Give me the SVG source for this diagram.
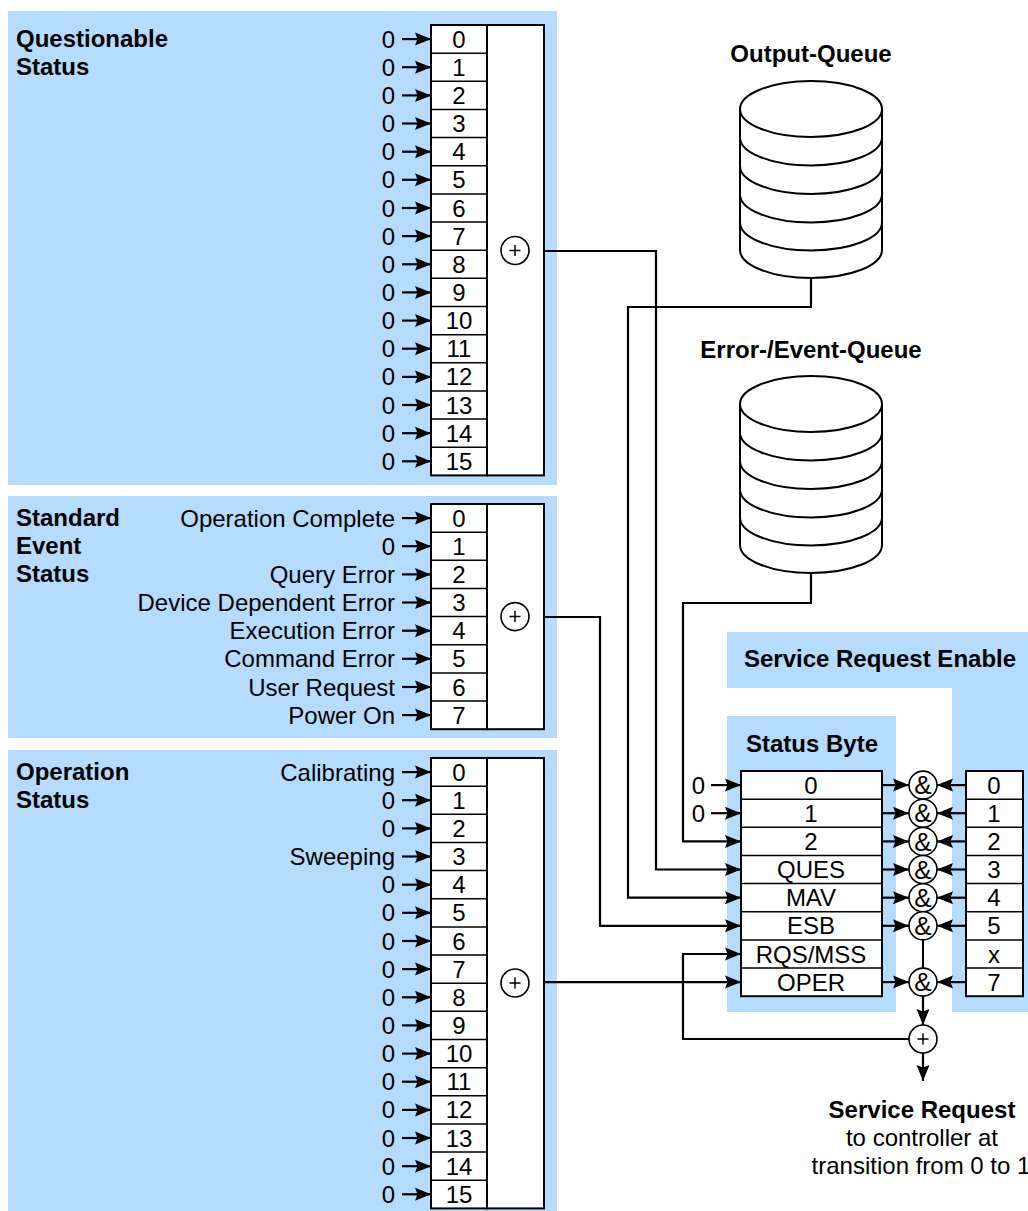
<svg xmlns="http://www.w3.org/2000/svg" width="1028" height="1211" viewBox="0 0 1028 1211">
<defs>
<style>
.panel{fill:#b5dcfe;stroke:none}
.box{fill:#fff;stroke:#000;stroke-width:2}
.div{stroke:#000;stroke-width:1.5;fill:none}
.t{font-family:"Liberation Sans",Arial,sans-serif;font-size:24px;fill:#000}
.b{font-weight:bold}
.m{text-anchor:middle}
.e{text-anchor:end}
.amp{font-size:26px}
.ln{stroke:#000;stroke-width:2;fill:none}
.ar path,path.ar{stroke:#000;stroke-width:2.2;fill:none;marker-end:url(#ah)}
.circ{fill:#fff;stroke:#000;stroke-width:1.6}
.cyl{fill:#fff;stroke:#000;stroke-width:2}
</style>
<marker id="ah" markerWidth="17" markerHeight="14" refX="16" refY="7" orient="auto" markerUnits="userSpaceOnUse"><path d="M0,0.5 L16,7 L0,13.5 L2.5,7 Z" fill="#000"/></marker>
</defs>
<rect width="1028" height="1211" fill="#fff"/>

<g id="questionable">
<rect class="panel" x="8" y="11" width="549" height="474"/>
<text class="t b" x="16" y="47">Questionable</text>
<text class="t b" x="16" y="75">Status</text>
<rect class="box" x="431" y="25" width="56" height="450.4"/>
<rect class="box" x="487" y="25" width="57" height="450.4"/>
<path class="div" d="M431,53.15H487M431,81.3H487M431,109.45H487M431,137.6H487M431,165.75H487M431,193.9H487M431,222.05H487M431,250.2H487M431,278.35H487M431,306.5H487M431,334.65H487M431,362.8H487M431,390.95H487M431,419.1H487M431,447.25H487"/>
<circle class="circ" cx="515" cy="250.5" r="14"/>
<path class="div" d="M509.5,250.5H520.5M515,245V256" stroke-width="1.3"/>
<g class="t m">
<text x="459" y="47.6">0</text><text x="459" y="75.7">1</text><text x="459" y="103.9">2</text><text x="459" y="132">3</text>
<text x="459" y="160.2">4</text><text x="459" y="188.3">5</text><text x="459" y="216.5">6</text><text x="459" y="244.6">7</text>
<text x="459" y="272.8">8</text><text x="459" y="300.9">9</text><text x="459" y="329.1">10</text><text x="459" y="357.2">11</text>
<text x="459" y="385.4">12</text><text x="459" y="413.5">13</text><text x="459" y="441.7">14</text><text x="459" y="469.8">15</text>
</g>
<g class="t e">
<text x="395" y="47.6">0</text><text x="395" y="75.7">0</text><text x="395" y="103.9">0</text><text x="395" y="132">0</text>
<text x="395" y="160.2">0</text><text x="395" y="188.3">0</text><text x="395" y="216.5">0</text><text x="395" y="244.6">0</text>
<text x="395" y="272.8">0</text><text x="395" y="300.9">0</text><text x="395" y="329.1">0</text><text x="395" y="357.2">0</text>
<text x="395" y="385.4">0</text><text x="395" y="413.5">0</text><text x="395" y="441.7">0</text><text x="395" y="469.8">0</text>
</g>
<g class="ar">
<path d="M402,39.1H431"/><path d="M402,67.2H431"/><path d="M402,95.4H431"/><path d="M402,123.5H431"/>
<path d="M402,151.7H431"/><path d="M402,179.8H431"/><path d="M402,208H431"/><path d="M402,236.1H431"/>
<path d="M402,264.3H431"/><path d="M402,292.4H431"/><path d="M402,320.6H431"/><path d="M402,348.7H431"/>
<path d="M402,376.9H431"/><path d="M402,405H431"/><path d="M402,433.2H431"/><path d="M402,461.3H431"/>
</g>
</g>

<g id="standard-event">
<rect class="panel" x="8" y="496" width="549" height="242"/>
<text class="t b" x="16" y="526">Standard</text>
<text class="t b" x="16" y="554">Event</text>
<text class="t b" x="16" y="582">Status</text>
<rect class="box" x="431" y="504" width="56" height="225.2"/>
<rect class="box" x="487" y="504" width="57" height="225.2"/>
<path class="div" d="M431,532.15H487M431,560.3H487M431,588.45H487M431,616.6H487M431,644.75H487M431,672.9H487M431,701.05H487"/>
<circle class="circ" cx="515" cy="616.6" r="14"/>
<path class="div" d="M509.5,616.6H520.5M515,611.1V622.1" stroke-width="1.3"/>
<g class="t m">
<text x="459" y="526.6">0</text><text x="459" y="554.7">1</text><text x="459" y="582.9">2</text><text x="459" y="611">3</text>
<text x="459" y="639.2">4</text><text x="459" y="667.3">5</text><text x="459" y="695.5">6</text><text x="459" y="723.6">7</text>
</g>
<g class="t e">
<text x="395" y="526.6">Operation Complete</text><text x="395" y="554.7">0</text><text x="395" y="582.9">Query Error</text><text x="395" y="611">Device Dependent Error</text>
<text x="395" y="639.2">Execution Error</text><text x="395" y="667.3">Command Error</text><text x="395" y="695.5">User Request</text><text x="395" y="723.6">Power On</text>
</g>
<g class="ar">
<path d="M402,518.1H431"/><path d="M402,546.2H431"/><path d="M402,574.4H431"/><path d="M402,602.5H431"/>
<path d="M402,630.7H431"/><path d="M402,658.8H431"/><path d="M402,687H431"/><path d="M402,715.1H431"/>
</g>
</g>

<g id="operation">
<rect class="panel" x="8" y="750" width="549" height="461"/>
<text class="t b" x="16" y="780">Operation</text>
<text class="t b" x="16" y="808">Status</text>
<rect class="box" x="431" y="758" width="56" height="450.4"/>
<rect class="box" x="487" y="758" width="57" height="450.4"/>
<path class="div" d="M431,786.15H487M431,814.3H487M431,842.45H487M431,870.6H487M431,898.75H487M431,926.9H487M431,955.05H487M431,983.2H487M431,1011.35H487M431,1039.5H487M431,1067.65H487M431,1095.8H487M431,1123.95H487M431,1152.1H487M431,1180.25H487"/>
<circle class="circ" cx="515" cy="983" r="14"/>
<path class="div" d="M509.5,983H520.5M515,977.5V988.5" stroke-width="1.3"/>
<g class="t m">
<text x="459" y="780.6">0</text><text x="459" y="808.7">1</text><text x="459" y="836.9">2</text><text x="459" y="865">3</text>
<text x="459" y="893.2">4</text><text x="459" y="921.3">5</text><text x="459" y="949.5">6</text><text x="459" y="977.6">7</text>
<text x="459" y="1005.8">8</text><text x="459" y="1033.9">9</text><text x="459" y="1062.1">10</text><text x="459" y="1090.2">11</text>
<text x="459" y="1118.4">12</text><text x="459" y="1146.5">13</text><text x="459" y="1174.7">14</text><text x="459" y="1202.8">15</text>
</g>
<g class="t e">
<text x="395" y="780.6">Calibrating</text><text x="395" y="808.7">0</text><text x="395" y="836.9">0</text><text x="395" y="865">Sweeping</text>
<text x="395" y="893.2">0</text><text x="395" y="921.3">0</text><text x="395" y="949.5">0</text><text x="395" y="977.6">0</text>
<text x="395" y="1005.8">0</text><text x="395" y="1033.9">0</text><text x="395" y="1062.1">0</text><text x="395" y="1090.2">0</text>
<text x="395" y="1118.4">0</text><text x="395" y="1146.5">0</text><text x="395" y="1174.7">0</text><text x="395" y="1202.8">0</text>
</g>
<g class="ar">
<path d="M402,772.1H431"/><path d="M402,800.2H431"/><path d="M402,828.4H431"/><path d="M402,856.5H431"/>
<path d="M402,884.7H431"/><path d="M402,912.8H431"/><path d="M402,941H431"/><path d="M402,969.1H431"/>
<path d="M402,997.3H431"/><path d="M402,1025.4H431"/><path d="M402,1053.6H431"/><path d="M402,1081.7H431"/>
<path d="M402,1109.9H431"/><path d="M402,1138H431"/><path d="M402,1166.2H431"/><path d="M402,1194.3H431"/>
</g>
</g>

<g id="output-queue">
<text class="t b m" x="811" y="62">Output-Queue</text>
<path class="cyl" d="M740,109V250A71,28 0 0 0 882,250V109Z"/>
<ellipse class="cyl" cx="811" cy="109" rx="71" ry="28"/>
<path class="ln" d="M740,137.5A71,28 0 0 0 882,137.5M740,166A71,28 0 0 0 882,166M740,194.5A71,28 0 0 0 882,194.5M740,222.5A71,28 0 0 0 882,222.5"/>
</g>

<g id="error-queue">
<text class="t b m" x="811" y="358">Error-/Event-Queue</text>
<path class="cyl" d="M740,404V545A71,28 0 0 0 882,545V404Z"/>
<ellipse class="cyl" cx="811" cy="404" rx="71" ry="28"/>
<path class="ln" d="M740,432.5A71,28 0 0 0 882,432.5M740,461A71,28 0 0 0 882,461M740,489.5A71,28 0 0 0 882,489.5M740,517.5A71,28 0 0 0 882,517.5"/>
</g>

<g id="service-request-enable">
<rect class="panel" x="727" y="632" width="301" height="56"/>
<rect class="panel" x="952" y="687" width="76" height="325"/>
<text class="t b m" x="880" y="667">Service Request Enable</text>
<rect class="box" x="966" y="771" width="57" height="225.2"/>
<path class="div" d="M966,799.15H1023M966,827.3H1023M966,855.45H1023M966,883.6H1023M966,911.75H1023M966,939.9H1023M966,968.05H1023"/>
<g class="t m">
<text x="994" y="793.6">0</text><text x="994" y="821.7">1</text><text x="994" y="849.9">2</text><text x="994" y="878">3</text>
<text x="994" y="906.2">4</text><text x="994" y="934.3">5</text><text x="994" y="962.5">x</text><text x="994" y="990.6">7</text>
</g>
</g>

<g id="status-byte">
<rect class="panel" x="727" y="716" width="169" height="296"/>
<text class="t b" x="746" y="752">Status Byte</text>
<rect class="box" x="741" y="771" width="141" height="225.2"/>
<path class="div" d="M741,799.15H882M741,827.3H882M741,855.45H882M741,883.6H882M741,911.75H882M741,939.9H882M741,968.05H882"/>
<g class="t m">
<text x="811" y="793.6">0</text><text x="811" y="821.7">1</text><text x="811" y="849.9">2</text><text x="811" y="878">QUES</text>
<text x="811" y="906.2">MAV</text><text x="811" y="934.3">ESB</text><text x="811" y="962.5">RQS/MSS</text><text x="811" y="990.6">OPER</text>
</g>
<text class="t e" x="705" y="793.6">0</text>
<text class="t e" x="705" y="821.7">0</text>
</g>

<g id="and-gates">
<path class="ln" d="M923,939.8V968.1"/>
<circle class="circ" cx="923" cy="785.1" r="14"/>
<circle class="circ" cx="923" cy="813.2" r="14"/>
<circle class="circ" cx="923" cy="841.4" r="14"/>
<circle class="circ" cx="923" cy="869.5" r="14"/>
<circle class="circ" cx="923" cy="897.7" r="14"/>
<circle class="circ" cx="923" cy="925.8" r="14"/>
<circle class="circ" cx="923" cy="982.1" r="14"/>
<g class="t m amp">
<text x="923" y="794.3">&amp;</text><text x="923" y="822.4">&amp;</text><text x="923" y="850.6">&amp;</text><text x="923" y="878.7">&amp;</text>
<text x="923" y="906.9">&amp;</text><text x="923" y="935">&amp;</text><text x="923" y="991.3">&amp;</text>
</g>
</g>

<g id="sum-srq">
<circle class="circ" cx="923" cy="1039" r="14"/>
<path class="div" d="M917.5,1039H928.5M923,1033.5V1044.5" stroke-width="1.3"/>
</g>

<g id="service-request-label">
<text class="t b m" x="922" y="1118">Service Request</text>
<text class="t m" x="922" y="1146">to controller at</text>
<text class="t m" x="921" y="1174">transition from 0 to 1</text>
</g>

<g id="connectors" class="ar">
<path d="M544,251H656V869.5H741"/>
<path d="M811,278V307H628V897.7H741"/>
<path d="M811,573V603H683V841.4H741"/>
<path d="M544,617H600V925.8H741"/>
<path d="M544,982.1H741"/>
<path d="M909,1039H683V954H741"/>
<path d="M711,785.1H741"/>
<path d="M711,813.2H741"/>
<path d="M882,785.1H909"/><path d="M882,813.2H909"/><path d="M882,841.4H909"/><path d="M882,869.5H909"/>
<path d="M882,897.7H909"/><path d="M882,925.8H909"/><path d="M882,982.1H909"/>
<path d="M966,785.1H937"/><path d="M966,813.2H937"/><path d="M966,841.4H937"/><path d="M966,869.5H937"/>
<path d="M966,897.7H937"/><path d="M966,925.8H937"/><path d="M966,982.1H937"/>
<path d="M923,996.1V1025"/>
<path d="M923,1053V1081"/>
</g>
</svg>
